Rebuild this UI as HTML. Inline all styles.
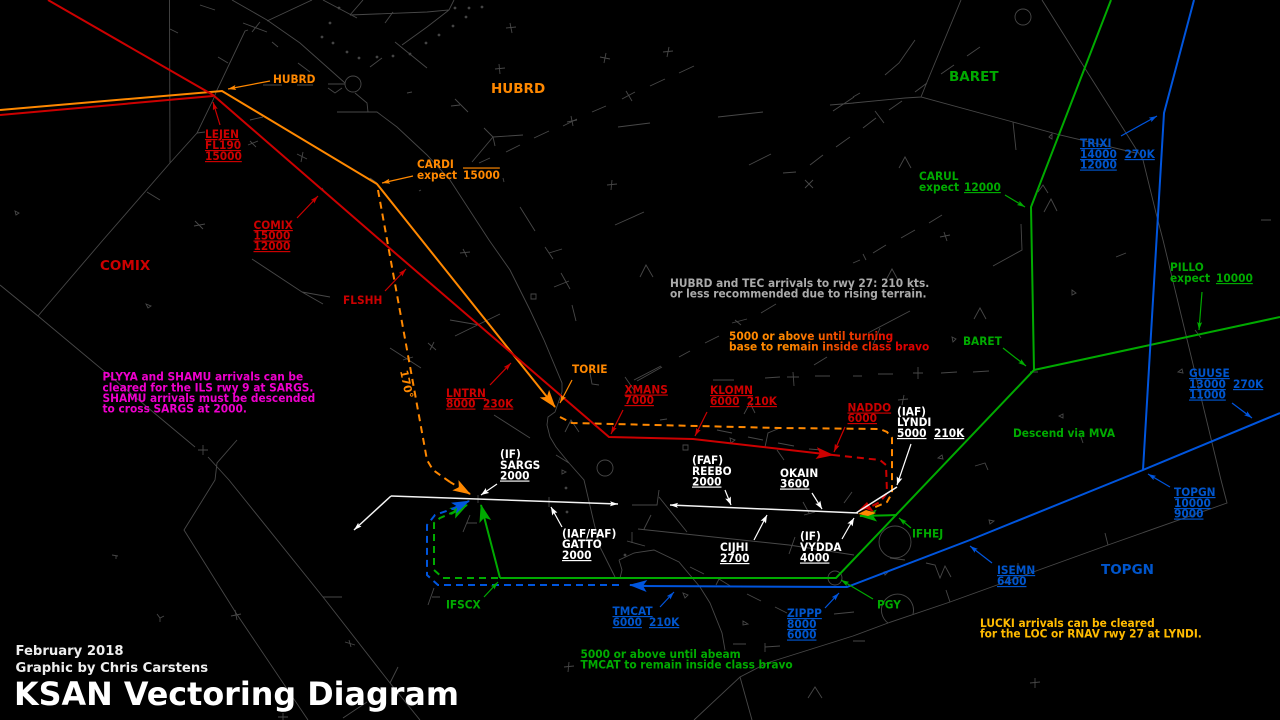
<!DOCTYPE html>
<html><head><meta charset="utf-8"><style>
html,body{margin:0;padding:0;background:#000;width:1280px;height:720px;overflow:hidden}
svg{display:block}
text{font-family:"DejaVu Sans","Liberation Sans",sans-serif;font-weight:bold;font-size:10.6px;white-space:pre;transform:scaleY(1.1);transform-box:fill-box;transform-origin:0 79.5%}
.r{fill:#cc0000}.o{fill:#ff8800}.g{fill:#00aa00}.b{fill:#0055cc}.w{fill:#fff}.m{fill:#ee00cc}.y{fill:#ffbb00}.s{fill:#aaa}
text.L{font-size:13.5px;transform:none}
text.n{transform:none}
.u{text-decoration:underline}
.ov{text-decoration:overline}
</style></head><body>
<svg width="1280" height="720" viewBox="0 0 1280 720" xmlns="http://www.w3.org/2000/svg">
<defs>
<linearGradient id="gr" gradientUnits="userSpaceOnUse" x1="729" y1="0" x2="929" y2="0"><stop offset="0.3" stop-color="#ff8800"/><stop offset="0.85" stop-color="#dd0000"/></linearGradient>
<marker id="sr" markerUnits="userSpaceOnUse" markerWidth="9" markerHeight="6" refX="8" refY="2.5" orient="auto"><path d="M0 0L8 2.5L0 5L1.5 2.5z" fill="#cc0000"/></marker>
<marker id="so" markerUnits="userSpaceOnUse" markerWidth="9" markerHeight="6" refX="8" refY="2.5" orient="auto"><path d="M0 0L8 2.5L0 5L1.5 2.5z" fill="#ff8800"/></marker>
<marker id="sg" markerUnits="userSpaceOnUse" markerWidth="9" markerHeight="6" refX="8" refY="2.5" orient="auto"><path d="M0 0L8 2.5L0 5L1.5 2.5z" fill="#00aa00"/></marker>
<marker id="sb" markerUnits="userSpaceOnUse" markerWidth="9" markerHeight="6" refX="8" refY="2.5" orient="auto"><path d="M0 0L8 2.5L0 5L1.5 2.5z" fill="#0055dd"/></marker>
<marker id="sw" markerUnits="userSpaceOnUse" markerWidth="9" markerHeight="6" refX="8" refY="2.5" orient="auto"><path d="M0 0L8 2.5L0 5L1.5 2.5z" fill="#fff"/></marker>
<marker id="br" markerUnits="userSpaceOnUse" markerWidth="20" markerHeight="13" refX="17" refY="6" orient="auto"><path d="M0 0L18 6L0 12L4 6z" fill="#cc0000"/></marker>
<marker id="bo" markerUnits="userSpaceOnUse" markerWidth="20" markerHeight="13" refX="17" refY="6" orient="auto"><path d="M0 0L18 6L0 12L4 6z" fill="#ff8800"/></marker>
<marker id="bg" markerUnits="userSpaceOnUse" markerWidth="20" markerHeight="13" refX="17" refY="6" orient="auto"><path d="M0 0L18 6L0 12L4 6z" fill="#00aa00"/></marker>
<marker id="bb" markerUnits="userSpaceOnUse" markerWidth="20" markerHeight="13" refX="17" refY="6" orient="auto"><path d="M0 0L18 6L0 12L4 6z" fill="#0055dd"/></marker>
<marker id="bw" markerUnits="userSpaceOnUse" markerWidth="9" markerHeight="7" refX="8" refY="3" orient="auto"><path d="M0 0L8 3L0 6L1.5 3z" fill="#fff"/></marker>
</defs>
<rect width="1280" height="720" fill="#000"/>

<!-- background grey chart -->
<g fill="none" stroke="#484848" stroke-width="0.9">
<path d="M169.5 0L170 163L197 133L213 100L217 90L245 31L248 30M170 163L103 240L38 316M0 285L38 316L195 447M208 457L229 480L323 597L390 683L420 720M237 440L217 463L215 480L184 530L236 613L308 720"/>
<path d="M232 0L267 20L300 43L345 83M267 21L312 0M200 5L215 10M170 29L178 33M323 0L357 18M350 15L363 0M350 15L427 12L449 10L454 0M449 10L427 27L402 45M395 42L427 68M385 23L393 12M243 23L267 32M252 32L260 22M272 42L278 47M218 57L228 63M298 63L310 72M370 67L382 58M407 93L412 92M263 85L282 85M297 85L313 85M328 84L345 84M328 88L335 93L342 88M355 93L367 103L368 112M337 112L368 112L377 112L397 127L427 155L450 180L489 240L510 270L530 310L544 340L562 383L562 392"/>
<path d="M562 392L555 412L548 417L547 425L550 437L556 447L569 463L584 480L594 523L600 547L615 577"/>
<path d="M250 120L263 117M197 133L205 132M147 192L160 200M370 178L377 183M322 188L324 191M421 190L419 191"/>
<circle cx="353" cy="84" r="8"/><circle cx="1023" cy="17" r="8"/><circle cx="605" cy="468" r="8"/><circle cx="835" cy="578" r="7"/><circle cx="895" cy="542" r="16"/>
<path d="M913 614A16 16 0 1 0 888 623"/>
<path d="M679 73L694 66M650 86L665 79M622 99L635 92M592 112L606 106M563 126L577 119M534 138L549 131M506 152L520 145M479 163L490 158M618 127L650 123M718 117L763 112M749 165L771 154M810 165L823 155M836 147L850 137M783 173L796 172M615 225L644 212M520 207L535 231M503 178L504 182M830 105L854 103M833 111L854 97M493 137L523 135M493 137L484 128M493 137L472 162M493 137L495 146M451 106L460 105M455 99L468 112"/>
<path d="M961 0L927 82L921 97M853 103L905 98L921 97L1013 122L1060 135L1136 153M1042 0L1086 70L1126 133L1143 160L1156 213L1163 240L1221 480L1227 503L1108 545L950 602L888 623L853 636L767 663L740 677L694 720M740 677L752 720M915 40L899 63L885 75M980 47L967 56M954 65L941 74M927 83L915 92M860 93L853 97M902 101L889 110M875 111L884 123M876 118L863 128M1013 122L1016 150M899 168L905 157L911 168M1044 212L1051 199L1057 211M1038 192L1043 185L1048 193M942 215L929 223M915 230L901 238M1021 224L1022 250L993 266M1261 220L1271 220"/>
<path d="M886 245L873 253M863 254L866 260M860 260L853 263M886 280L892 269L898 280M974 319L980 308L986 319M910 311L868 333M880 328L873 345M853 376L862 376M878 374L893 374M941 373L957 372M973 372L989 371M1030 372L1038 372M988 470L985 463L975 466M1081 437L1083 443M1116 257L1126 253M1195 330L1201 338"/>
<path d="M545 247L553 259M549 253L562 249M561 273L570 289M554 287L569 281M572 305L576 321M640 277L646 265L653 277M450 320L479 325M455 336L500 314M252 259L302 292L323 304M302 292L330 297M390 348L421 368M413 357L403 360M494 415L530 438M590 373L592 384L599 385M761 313L776 304M732 323L747 319M735 320L741 325M705 343L719 336M679 357L690 351M634 380L661 366M637 381L662 367M625 377L634 390M814 365L827 357M713 380L734 380M765 378L780 377M787 377L799 377M793 372L794 386M815 376L830 376M660 420L667 419M565 432L571 420L579 432M744 414L750 403L755 413M717 430L732 433M748 437L763 440M765 447L768 433L780 428M778 443L794 446M777 450L784 460M809 449L822 450M556 455L569 463"/>
<path d="M659 490L657 505L632 505M659 497L687 532M651 515L644 529M638 529L789 545L854 555M632 532L632 543M627 541L645 546M619 560L634 553L654 550L679 562L700 587L710 603L722 633L725 650M619 560L622 570L620 578M549 497L549 507M478 495L478 503M470 515L463 532M467 523L477 523M434 588L428 605M432 597L440 597M803 502L809 513M804 515L815 512M844 503L852 492M795 537L789 554M690 567L704 574M716 585L719 579L732 587M747 594L761 601M775 607L787 613M834 614L854 612M765 643L765 652M765 647L780 646M733 644L746 644M808 698L815 687L822 698"/>
<path d="M890 558L905 560M926 563L935 565L940 578L945 566L951 577M1018 563L1018 568M1105 533L1108 545M946 590L950 602M853 641L865 641M323 597L342 597M398 667L390 683M343 718L367 702M112 555L118 556M116 556L116 559M157 614L160 618L164 616M160 618L160 622"/>
<!-- crosses -->
<path d="M248 145L258 141M250 141L256 147M297 154L307 159M303 152L301 162M194 226L205 224M195 221L203 229M506 28L516 27M510 23L512 33M495 69L505 68M499 64L500 74M600 57L610 59M606 53L604 63M663 52L673 51M669 47L667 57M626 91L632 101M567 122L577 120M571 116L573 126M607 185L617 184M612 180L611 190M805 180L813 188M805 188L813 180M460 253L470 252M463 249L467 257M428 343L436 350M434 342L430 350M198 450L208 450M203 445L203 455M913 373L923 373M918 367L918 379M898 400L908 399M904 395L902 405M564 667L574 666M569 662L568 672M1030 683L1040 682M1035 678L1035 688M231 616L241 614M235 610L237 620M345 642L355 645M349 640L351 647M278 717L288 717M283 713L283 720M940 237L950 235M944 232L947 241"/>
<!-- small triangles -->
<path d="M15 211L19 213L16 215zM146 304L151 306L148 308zM1049 137L1052 134L1052 139zM1072 290L1076 293L1072 295zM952 337L956 339L953 342zM1059 416L1063 414L1063 418zM1178 372L1182 369L1183 373zM938 458L942 455L943 459zM531 294h5v5h-5zM683 445h5v5h-5zM730 438L735 440L731 443zM683 593L688 595L685 598zM743 621L748 624L743 625zM989 520L994 521L990 524zM884 572L889 571L885 575zM562 470L566 472L562 474z"/>
</g>
<g fill="#444">
<circle cx="330" cy="23" r="1.4"/><circle cx="322" cy="37" r="1.4"/><circle cx="333" cy="43" r="1.4"/><circle cx="347" cy="52" r="1.4"/><circle cx="359" cy="58" r="1.4"/><circle cx="377" cy="57" r="1.4"/><circle cx="393" cy="56" r="1.4"/><circle cx="410" cy="54" r="1.4"/><circle cx="426" cy="43" r="1.4"/><circle cx="339" cy="8" r="1.4"/><circle cx="455" cy="8" r="1.4"/><circle cx="469" cy="8" r="1.4"/><circle cx="482" cy="7" r="1.4"/><circle cx="466" cy="17" r="1.4"/><circle cx="453" cy="26" r="1.4"/><circle cx="439" cy="35" r="1.4"/><circle cx="566" cy="488" r="1.4"/><circle cx="567" cy="512" r="1.4"/><circle cx="625" cy="555" r="1.4"/>
</g>

<!-- green IFHEJ approach sits beneath the orange and red arrowheads -->
<path d="M897 515L860 516" fill="none" stroke="#00aa00" stroke-width="2" marker-end="url(#bg)"/>
<!-- orange routes -->
<g fill="none" stroke="#ff8800" stroke-width="2">
<path d="M0 110L222 91L377 184L555 407" marker-end="url(#bo)"/>
<path d="M560 417L572 423L780 428L880 429L887 432L892 438L892 493L887 502L873 508" stroke-dasharray="7 5"/>
<path d="M378 190L427 460L433 470L450 482" stroke-dasharray="7 5"/>
<path d="M450 482L470 494" stroke-dasharray="5 5" marker-end="url(#bo)"/>
</g>
<path d="M858 514L866 510L876 513L868 516z" fill="#ff8800"/>
<!-- red routes -->
<g fill="none" stroke="#cc0000" stroke-width="2">
<path d="M48 0L213 95L380 240L609 437L693 439L833 455" marker-end="url(#br)"/>
<path d="M0 115L213 96"/>
<path d="M833 455L880 460L886 465L887 493L880 502L870 507" stroke-dasharray="7 5"/>
</g>
<path d="M857 512L867 502L874 512L866 509z" fill="#cc0000"/>
<!-- white routes -->
<g fill="none" stroke="#f4f4f4" stroke-width="1.5">
<path d="M391 496L618 504" marker-end="url(#sw)"/>
<path d="M391 496L354 530" marker-end="url(#sw)"/>
<path d="M858 513L670 505" marker-end="url(#sw)"/>
<path d="M856 513L897 487"/>
</g>
<!-- green routes -->
<g fill="none" stroke="#00aa00" stroke-width="2">
<path d="M1111 0L1031 207L1034 370L1280 317M1034 370L836 578L500 578"/>
<path d="M500 578L481 505" marker-end="url(#bg)"/>
<path d="M498 578L443 578L434 570L434 523L440 518L463 508" stroke-dasharray="7 5"/>
<path d="M451 514L467 505" marker-end="url(#bg)"/>
</g>
<!-- blue routes -->
<g fill="none" stroke="#0055dd" stroke-width="2">
<path d="M1194 0L1164 113L1143 470M1280 413L1143 470L970 540L847 587L640 586"/>
<path d="M647 586L630 585" marker-end="url(#bb)"/>
<path d="M619 585L438 585L427 575L427 525L435 515L455 508" stroke-dasharray="7 5"/>
<path d="M452 509L469 501" marker-end="url(#bb)"/>
</g>

<!-- leaders -->
<g fill="none" stroke-width="1.2">
<g stroke="#ff8800"><path d="M270 81L228 89" marker-end="url(#so)"/><path d="M413 176L382 183" marker-end="url(#so)"/><path d="M572 380L560 403" marker-end="url(#so)"/></g>
<g stroke="#cc0000"><path d="M220 125L213 102" marker-end="url(#sr)"/><path d="M297 218L318 196" marker-end="url(#sr)"/><path d="M385 291L406 269" marker-end="url(#sr)"/><path d="M490 385L511 363" marker-end="url(#sr)"/><path d="M623 410L611 434" marker-end="url(#sr)"/><path d="M707 412L695 436" marker-end="url(#sr)"/><path d="M845 427L834 452" marker-end="url(#sr)"/></g>
<g stroke="#fff"><path d="M497 484L481 495" marker-end="url(#bw)"/><path d="M562 527L551 507" marker-end="url(#bw)"/><path d="M725 490L731 505" marker-end="url(#bw)"/><path d="M812 493L822 509" marker-end="url(#bw)"/><path d="M754 540L767 515" marker-end="url(#bw)"/><path d="M842 539L854 518" marker-end="url(#bw)"/><path d="M911 444L897 485" marker-end="url(#bw)"/></g>
<g stroke="#00aa00"><path d="M1005 195L1025 207" marker-end="url(#sg)"/><path d="M1202 292L1199 330" marker-end="url(#sg)"/><path d="M1003 348L1026 366" marker-end="url(#sg)"/><path d="M911 528L899 518" marker-end="url(#sg)"/><path d="M873 599L841 580" marker-end="url(#sg)"/><path d="M484 597L498 582" marker-end="url(#sg)"/></g>
<g stroke="#0055dd"><path d="M1121 136L1157 116" marker-end="url(#sb)"/><path d="M1232 403L1252 418" marker-end="url(#sb)"/><path d="M1170 487L1148 474" marker-end="url(#sb)"/><path d="M992 563L970 546" marker-end="url(#sb)"/><path d="M660 607L674 592" marker-end="url(#sb)"/><path d="M825 608L839 593" marker-end="url(#sb)"/></g>
</g>

<!-- labels -->
<text class="o" x="273" y="83">HUBRD</text>
<text class="r u" x="205" y="138">LEJEN</text><text class="r u" x="205" y="149">FL190</text><text class="r u" x="205" y="160">15000</text>
<text class="r u" x="253.500" y="229">COMIX</text><text class="r u" x="253.500" y="239.500">15000</text><text class="r u" x="253.500" y="250">12000</text>
<text class="r L" x="100" y="270">COMIX</text>
<text class="r" x="343" y="304">FLSHH</text>
<text class="o" x="417" y="168">CARDI</text><text class="o" x="417" y="179">expect</text><text class="o ov" x="463" y="179">15000</text>
<text class="o L" x="491" y="93">HUBRD</text>
<text class="g L" x="949" y="81">BARET</text>
<text class="g" x="919" y="180">CARUL</text><text class="g" x="919" y="191">expect</text><text class="g u" x="964" y="191">12000</text>
<text class="b u" x="1080" y="147">TRIXI</text><text class="b u" x="1080" y="158">14000</text><text class="b u" x="1124.500" y="158">270K</text><text class="b u" x="1080" y="168.500">12000</text>
<text class="g" x="1170" y="271">PILLO</text><text class="g" x="1170" y="282">expect</text><text class="g u" x="1216" y="282">10000</text>
<text class="b u" x="1189" y="377">GUUSE</text><text class="b u" x="1189" y="388">13000</text><text class="b u" x="1233" y="388">270K</text><text class="b u" x="1189" y="398.500">11000</text>
<text class="g" x="963" y="345">BARET</text>
<text class="g" x="1013" y="437">Descend via MVA</text>
<text class="s" x="670" y="287">HUBRD and TEC arrivals to rwy 27: 210 kts.</text><text class="s" x="670" y="297.500">or less recommended due to rising terrain.</text>
<text fill="url(#gr)" x="729" y="340">5000 or above until turning</text><text fill="url(#gr)" x="729" y="350.500">base to remain inside class bravo</text>
<text class="o" x="572" y="373">TORIE</text>
<text class="r u" x="446" y="397">LNTRN</text><text class="r u" x="446" y="407.500">8000</text><text class="r u" x="483" y="407.500">230K</text>
<text class="r u" x="624.500" y="393.500">XMANS</text><text class="r u" x="624.500" y="404">7000</text>
<text class="r u" x="710" y="394">KLOMN</text><text class="r u" x="710" y="405">6000</text><text class="r u" x="746.700" y="405">210K</text>
<text class="r u" x="847.500" y="411.500">NADDO</text><text class="r u" x="847.500" y="422">6000</text>
<text class="w" x="897" y="415.500">(IAF)</text><text class="w" x="897" y="426">LYNDI</text><text class="w u" x="897" y="437">5000</text><text class="w u" x="934" y="437">210K</text>
<text class="w" x="500" y="458">(IF)</text><text class="w" x="500" y="469">SARGS</text><text class="w u" x="500" y="479.500">2000</text>
<text class="w" x="562" y="537.500">(IAF/FAF)</text><text class="w" x="562" y="548">GATTO</text><text class="w u" x="562" y="559">2000</text>
<text class="w" x="692" y="464">(FAF)</text><text class="w" x="692" y="475">REEBO</text><text class="w u" x="692" y="485.500">2000</text>
<text class="w" x="780" y="477">OKAIN</text><text class="w u" x="780" y="487.500">3600</text>
<text class="w" x="720" y="551">CIJHI</text><text class="w u" x="720" y="562">2700</text>
<text class="w" x="800" y="540">(IF)</text><text class="w" x="800" y="551">VYDDA</text><text class="w u" x="800" y="561.500">4000</text>
<text class="g" x="912" y="537.500">IFHEJ</text>
<text class="g" x="877" y="608.500">PGY</text>
<text class="g" x="446" y="608.500">IFSCX</text>
<text class="b u" x="997" y="574">ISEMN</text><text class="b u" x="997" y="585">6400</text>
<text class="b L" x="1101" y="574">TOPGN</text>
<text class="b u" x="1174" y="496">TOPGN</text><text class="b u" x="1174" y="507">10000</text><text class="b u" x="1174" y="517.500">9000</text>
<text class="b u" x="787" y="617">ZIPPP</text><text class="b u" x="787" y="628">8000</text><text class="b u" x="787" y="638.500">6000</text>
<text class="b u" x="612.500" y="615">TMCAT</text><text class="b u" x="612.500" y="626">6000</text><text class="b u" x="649" y="626">210K</text>
<text class="g" x="580.500" y="658">5000 or above until abeam</text><text class="g" x="580.500" y="668.500">TMCAT to remain inside class bravo</text>
<text class="y" x="980" y="627">LUCKI arrivals can be cleared</text><text class="y" x="980" y="637.500">for the LOC or RNAV rwy 27 at LYNDI.</text>
<text class="m" x="102.500" y="380.500">PLYYA and SHAMU arrivals can be</text><text class="m" x="102.500" y="391.500">cleared for the ILS rwy 9 at SARGS.</text><text class="m" x="102.500" y="402">SHAMU arrivals must be descended</text><text class="m" x="102.500" y="412.500">to cross SARGS at 2000.</text>
<g transform="translate(400 371) rotate(78)"><text class="o n" x="0" y="0" style="font-size:11px">170°</text></g>
<text class="w n" x="15.500" y="655" style="font-size:13.2px;fill:#eee">February 2018</text>
<text class="w n" x="15.500" y="672" style="font-size:13.2px;fill:#eee">Graphic by Chris Carstens</text>
<text class="w n" x="14" y="705" style="font-size:31.8px">KSAN Vectoring Diagram</text>
</svg>
</body></html>
